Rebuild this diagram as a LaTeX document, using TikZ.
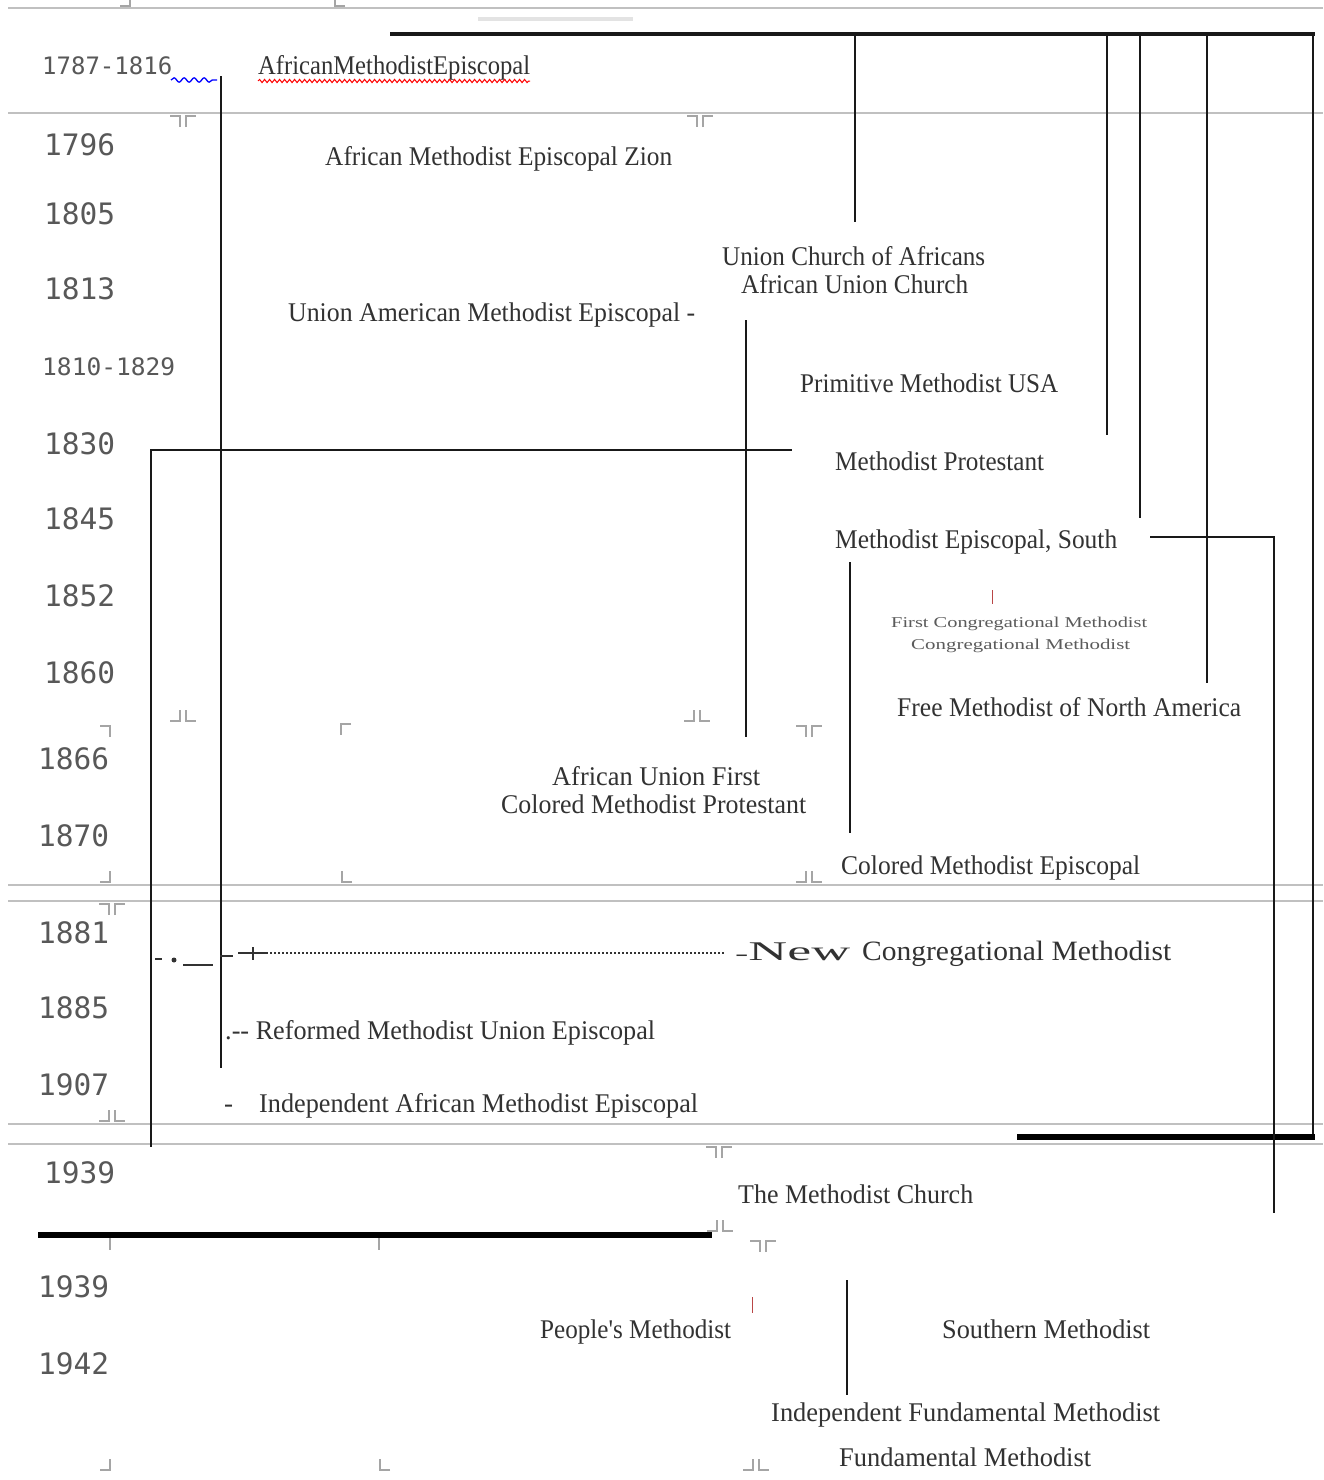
\documentclass[tikz,border=0pt]{standalone}
\usepackage{fontspec}
\usepackage{graphicx}
\setmainfont{Liberation Serif}
\newfontfamily\yrfont{DejaVu Sans Mono}
\usetikzlibrary{decorations.pathmorphing}
\definecolor{txt}{RGB}{50,50,50}
\definecolor{yrc}{RGB}{88,88,88}
\definecolor{tbl}{RGB}{192,192,192}
\definecolor{cmc}{RGB}{165,165,165}
\definecolor{ink}{RGB}{25,25,25}
\newcommand\fw[2]{\resizebox{#1pt}{\height}{#2}}
% corner marks: ┘└ (corners at bottom) and ┐┌ (corners at top)
\newcommand\mkBot[2]{\draw[cmk] ({#1-13},{#2}) -- ({#1-3},{#2}) -- ({#1-3},{#2-11});
  \draw[cmk] ({#1+3},{#2-11}) -- ({#1+3},{#2}) -- ({#1+13},{#2});}
\newcommand\mkTop[2]{\draw[cmk] ({#1-13},{#2}) -- ({#1-3},{#2}) -- ({#1-3},{#2+11});
  \draw[cmk] ({#1+3},{#2+11}) -- ({#1+3},{#2}) -- ({#1+13},{#2});}
\newcommand\mkBR[2]{\draw[cmk] ({#1-10},{#2}) -- (#1,#2) -- ({#1},{#2-11});}
\newcommand\mkBL[2]{\draw[cmk] ({#1+10},{#2}) -- (#1,#2) -- ({#1},{#2-11});}
\newcommand\mkTR[2]{\draw[cmk] ({#1-10},{#2}) -- (#1,#2) -- ({#1},{#2+11});}
\newcommand\mkTL[2]{\draw[cmk] ({#1+10},{#2}) -- (#1,#2) -- ({#1},{#2+11});}
\begin{document}
\begin{tikzpicture}[x=1pt,y=-1pt,
  lbl/.style={anchor=west, inner sep=0pt, text=txt, font=\fontsize{27}{30}\selectfont, text height=18pt, text depth=1pt},
  small/.style={anchor=west, inner sep=0pt, text=txt!80, font=\fontsize{15}{17}\selectfont, text height=10pt, text depth=1pt},
  yr/.style={anchor=west, inner sep=0pt, text=yrc, font=\yrfont\fontsize{29.5}{32}\selectfont, text height=21pt, text depth=0pt},
  yrr/.style={anchor=west, inner sep=0pt, text=yrc, font=\yrfont\fontsize{24}{26}\selectfont, text height=17.5pt, text depth=0pt},
  tline/.style={draw=tbl, line width=1.7pt},
  cmk/.style={draw=cmc, line width=1.3pt},
  bar/.style={draw=ink, line width=2.8pt},
  thinbar/.style={draw=ink, line width=2.2pt},
  heavybar/.style={draw=black, line width=5.5pt},
  redtick/.style={draw=red!45!gray, line width=1pt}]
\useasboundingbox (0,0) rectangle (1323,1480);
\fill[white] (0,0) rectangle (1323,1480);

% ---- table grid (gray) ----
\draw[tline] (8,8) -- (1323,8);
\draw[tline] (8,113) -- (1323,113);
\draw[tline] (8,885) -- (1323,885);
\draw[tline] (8,901) -- (1323,901);
\draw[tline] (8,1124) -- (1323,1124);
\draw[tline] (8,1144) -- (1323,1144);
\draw[draw=gray!22, line width=3.5pt] (478,19) -- (633,19);

% ---- corner marks ----
\mkBR{130}{6}
\mkBL{335}{6}
\mkTop{183}{116}
\mkTop{700}{116}
\mkTR{110}{726}
\mkBot{183}{721}
\mkTL{341}{724}
\mkBot{697}{721}
\mkTop{809}{726}
\mkBR{110}{882}
\mkBL{342}{882}
\mkBot{809}{882}
\mkTop{112}{904}
\mkBot{112}{1121}
\mkTop{719}{1147}
\mkBot{720}{1231}
\mkTop{763}{1241}
\draw[cmk] (110,1238) -- (110,1250);
\draw[cmk] (379,1238) -- (379,1250);
\mkBR{110}{1470}
\mkBL{380}{1470}
\mkBot{756}{1470}

% ---- years ----
\node[yrr] (y1787) at (42,66) {1787-1816};
\node[yr] (y1796) at (44,145) {1796};
\node[yr] (y1805) at (44,214) {1805};
\node[yr] (y1813) at (44,289) {1813};
\node[yrr] (y1810) at (42,367) {\resizebox{133pt}{\height}{1810-1829}};
\node[yr] (y1830) at (44,444) {1830};
\node[yr] (y1845) at (44,519) {1845};
\node[yr] (y1852) at (44,596) {1852};
\node[yr] (y1860) at (44,673) {1860};
\node[yr] (y1866) at (38,759) {1866};
\node[yr] (y1870) at (38,836) {1870};
\node[yr] (y1881) at (38,933) {1881};
\node[yr] (y1885) at (38,1008) {1885};
\node[yr] (y1907) at (38,1085) {1907};
\node[yr] (y1939a) at (44,1173) {1939};
\node[yr] (y1939b) at (38,1287) {1939};
\node[yr] (y1942) at (38,1364) {1942};

% ---- denominations ----
\node[lbl] (ame) at (258,66) {\fw{272}{AfricanMethodistEpiscopal}};
\node[lbl] (amez) at (325,157) {\fw{347}{African Methodist Episcopal Zion}};
\node[lbl] (uca) at (722,257) {\fw{263}{Union Church of Africans}};
\node[lbl] (auc) at (741,285) {\fw{227}{African Union Church}};
\node[lbl] (uame) at (288,313) {\fw{407}{Union American Methodist Episcopal -}};
\node[lbl] (pm) at (800,384) {\fw{258}{Primitive Methodist USA}};
\node[lbl] (mp) at (835,462) {\fw{209}{Methodist Protestant}};
\node[lbl] (mes) at (835,540) {\fw{282}{Methodist Episcopal, South}};
\node[small] (fcm) at (891,623) {\fw{256}{First Congregational Methodist}};
\node[small] (cm) at (911,645) {\fw{219}{Congregational Methodist}};
\node[lbl] (fm) at (897,708) {\fw{344}{Free Methodist of North America}};
\node[lbl] (auf) at (552,777) {\fw{208}{African Union First}};
\node[lbl] (cmp) at (501,805) {\fw{305}{Colored Methodist Protestant}};
\node[lbl] (cme) at (841,866) {\fw{299}{Colored Methodist Episcopal}};
\node[lbl, font=\fontsize{27}{30}\selectfont] (new) at (735,952) {\fw{115}{{\fontsize{20}{22}\selectfont -}New}};
\node[lbl, font=\fontsize{28}{30}\selectfont] (ncm) at (862,952) {\fw{309}{Congregational Methodist}};
\node[lbl] (rmue) at (225,1031) {\fw{430}{.-{}- Reformed Methodist Union Episcopal}};
\node[lbl] (dash) at (224,1104) {-};
\node[lbl] (iame) at (259,1104) {\fw{439}{Independent African Methodist Episcopal}};
\node[lbl] (tmc) at (738,1195) {\fw{235}{The Methodist Church}};
\node[lbl] (pplm) at (540,1330) {\fw{191}{People\textquotesingle s Methodist}};
\node[lbl] (sm) at (942,1330) {\fw{208}{Southern Methodist}};
\node[lbl] (ifm) at (771,1413) {\fw{389}{Independent Fundamental Methodist}};
\node[lbl] (fdm) at (839,1458) {\fw{252}{Fundamental Methodist}};

% ---- wavy underlines ----
\draw[blue, line width=1.3pt, decorate, decoration={snake, amplitude=2.2pt, segment length=10pt}] (171,80) -- (217,80);
\draw[red, line width=1pt, decorate, decoration={snake, amplitude=1.6pt, segment length=5pt}] (258,81) -- (530,81);
\draw[redtick] (992,590) -- (992,604);
\draw[redtick] (752,1297) -- (752,1313);

% ---- timeline bars ----
\coordinate (top0) at (390,34);
\coordinate (top1) at (1315,34);
\draw[bar, line width=3.2pt] (top0) -- (top1);
\draw[bar] (855,34) -- (855,222);
\draw[bar] (1107,34) -- (1107,435);
\draw[bar] (1140,34) -- (1140,518);
\draw[bar] (1207,34) -- (1207,683);
\draw[bar] (1313,34) -- (1313,1138);
\draw[heavybar] (1017,1137) -- (1315,1137);
\draw[thinbar] (1150,537) -- (1274,537) -- (1274,1213);
\draw[bar] (221,76) -- (221,1068);
\draw[thinbar] (150,450) -- (792,450);
\draw[thinbar] (151,450) -- (151,1147);
\draw[bar] (746,320) -- (746,737);
\draw[bar] (850,562) -- (850,833);
\draw[thinbar] (847,1280) -- (847,1395);
\draw[heavybar] (38,1235) -- (712,1235);

% ---- 1881 dotted connector ----
\draw[draw=txt, line width=1.2pt] (155,959) -- (162,959);
\fill[txt] (174,960) circle (2.5pt);
\draw[draw=txt, line width=1.5pt] (183,965) -- (213,965);
\draw[draw=txt, line width=1.5pt] (220,956) -- (233,956);
\draw[draw=txt, line width=1.3pt] (238,953) -- (268,953);
\draw[draw=txt, line width=1.3pt] (253,947) -- (253,960);
\draw[draw=txt, line width=1.1pt, dash pattern=on 2pt off 2pt] (270,953) -- (725,953);
\end{tikzpicture}
\end{document}
